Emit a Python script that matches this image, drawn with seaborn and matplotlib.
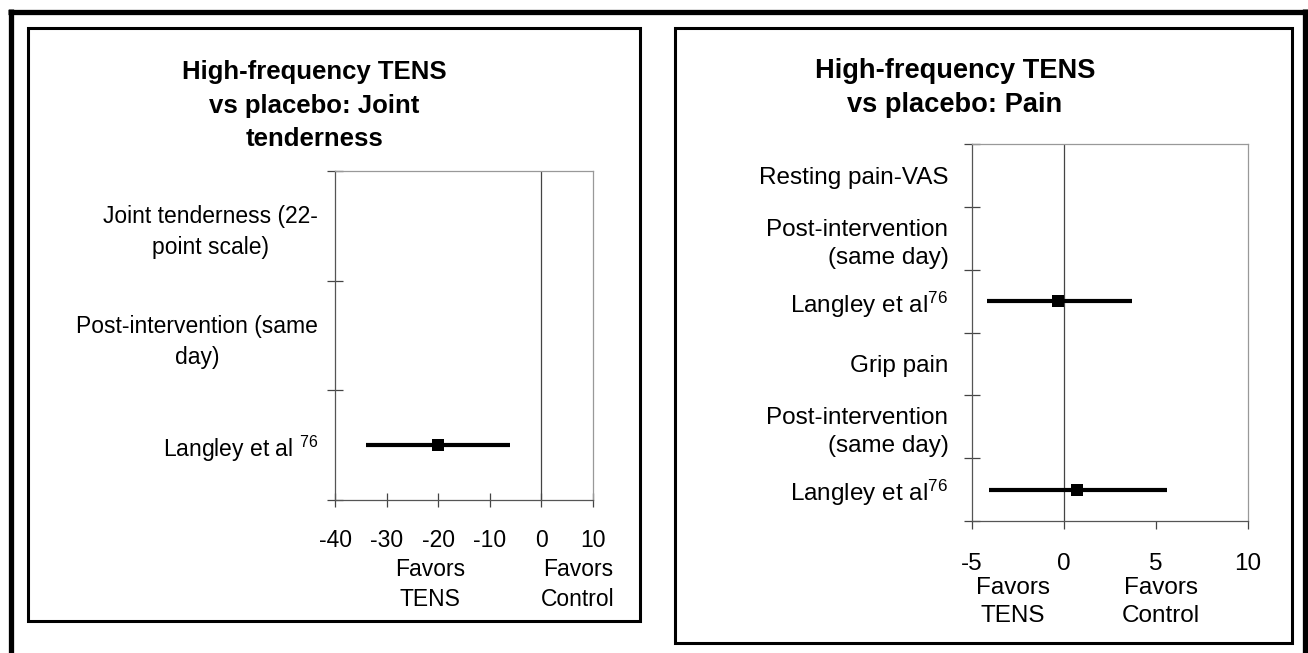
import numpy as np
import pandas as pd
import matplotlib
matplotlib.use("Agg")
import matplotlib.pyplot as plt
from matplotlib.patches import Rectangle
from matplotlib.lines import Line2D
import seaborn as sns

# ---------------- data ----------------
left_title = "High-frequency TENS\nvs placebo: Joint\ntenderness"
left_labels = ["Joint tenderness (22-\npoint scale)",
               "Post-intervention (same\nday)",
               "Langley et al $^{\\mathregular{76}}$"]
left_est = [np.nan, np.nan, -20.0]
left_lo = [np.nan, np.nan, -34.0]
left_hi = [np.nan, np.nan, -6.0]
left_xticks = [-40, -30, -20, -10, 0, 10]

right_title = "High-frequency TENS\nvs placebo: Pain"
right_labels = ["Resting pain-VAS",
                "Post-intervention\n(same day)",
                "Langley et al$^{\\mathregular{76}}$",
                "Grip pain",
                "Post-intervention\n(same day)",
                "Langley et al$^{\\mathregular{76}}$"]
right_est = [np.nan, np.nan, -0.3, np.nan, np.nan, 0.7]
right_lo = [np.nan, np.nan, -4.2, np.nan, np.nan, -4.1]
right_hi = [np.nan, np.nan, 3.7, np.nan, np.nan, 5.6]
right_xticks = [-5, 0, 5, 10]

favors_left = "Favors\nTENS"
favors_right = "Favors\nControl"

# ---------------- style ----------------
sns.set_theme(style="white")
plt.rcParams["font.family"] = ["Liberation Sans", "DejaVu Sans"]
plt.rcParams["text.color"] = "black"
plt.rcParams["xtick.color"] = "black"
plt.rcParams["ytick.color"] = "black"
plt.rcParams["mathtext.fontset"] = "custom"
plt.rcParams["mathtext.rm"] = "Liberation Sans"
plt.rcParams["mathtext.it"] = "Liberation Sans:italic"
plt.rcParams["mathtext.bf"] = "Liberation Sans:bold"

W, H = 1308, 653
fig = plt.figure(figsize=(W / 100, H / 100), dpi=100)
fig.patch.set_facecolor("white")


def fx(px):
    return px / W


def fy(py):
    return 1 - py / H


def forest(ax, labels, est, lo, hi, xticks, fs, ma, ypad, xdir, xpad, lsp):
    n = len(labels)
    pos = np.arange(n)
    df = pd.DataFrame({"pos": pos, "est": est, "lo": lo, "hi": hi})
    ax.axvline(0, color="#444444", lw=0.9, zorder=1)
    d = df.dropna()
    ax.hlines(d["pos"], d["lo"], d["hi"], color="black", lw=3.0, zorder=3)
    sns.scatterplot(data=d, x="est", y="pos", marker="s", s=70, color="black",
                    edgecolor="black", linewidth=0, ax=ax, zorder=4, legend=False)
    ax.set_ylim(n - 0.5, -0.5)
    ax.set_xlim(xticks[0], xticks[-1])
    ax.set_xticks(xticks)
    ax.set_xticklabels([str(t) for t in xticks], fontsize=fs, color="black")
    ax.set_yticks(pos)
    ax.set_yticklabels(labels, fontsize=fs, ma=ma, linespacing=lsp, color="black")
    ax.set_yticks(np.arange(n + 1) - 0.5, minor=True)
    ax.tick_params(axis="y", which="major", length=0, pad=ypad)
    ax.tick_params(axis="y", which="minor", length=11, width=0.9,
                   direction="inout", color="#444444", left=True)
    ax.tick_params(axis="x", which="major", length=10 if xdir == "inout" else 6,
                   width=0.9, direction=xdir, color="#444444", pad=xpad,
                   bottom=True)
    ax.set_xlabel("")
    ax.set_ylabel("")
    ax.set_facecolor("white")
    for side in ["left", "bottom"]:
        ax.spines[side].set_color("#555555")
        ax.spines[side].set_linewidth(0.9)
    for side in ["top", "right"]:
        ax.spines[side].set_color("#999999")
        ax.spines[side].set_linewidth(0.9)
    ax.grid(False)


# ---------------- left panel ----------------
axL = fig.add_axes([fx(335), fy(500), fx(593) - fx(335), fy(171) - fy(500)])
forest(axL, left_labels, left_est, left_lo, left_hi, left_xticks,
       16.5, "center", 12, "inout", 16, 1.42)

# ---------------- right panel ----------------
axR = fig.add_axes([fx(972), fy(521), fx(1248) - fx(972), fy(144) - fy(521)])
forest(axR, right_labels, right_est, right_lo, right_hi, right_xticks,
       17.5, "right", 17, "out", 17, 1.35)

# titles
fig.text(fx(314), fy(106), left_title, ha="center", va="center",
         ma="center", fontsize=18.5, fontweight="bold", linespacing=1.5)
fig.text(fx(955), fy(88), right_title, ha="center", va="center",
         ma="center", fontsize=19.6, fontweight="bold", linespacing=1.4)

# favors labels
fig.text(fx(430), fy(584.5), favors_left, ha="center", va="center", ma="center",
         fontsize=16.5, linespacing=1.35)
fig.text(fx(578), fy(584.5), favors_right, ha="center", va="center", ma="center",
         fontsize=16.5, linespacing=1.35)
fig.text(fx(1013), fy(602), favors_left, ha="center", va="center", ma="center",
         fontsize=17.5, linespacing=1.35)
fig.text(fx(1161), fy(602), favors_right, ha="center", va="center", ma="center",
         fontsize=17.5, linespacing=1.35)

# panel frames
fig.patches.append(Rectangle((fx(28), fy(620.5)), fx(640) - fx(28), fy(28) - fy(620.5),
                             transform=fig.transFigure, fill=False,
                             edgecolor="black", lw=2.2, zorder=0))
fig.patches.append(Rectangle((fx(675.5), fy(642.5)), fx(1291.5) - fx(675.5),
                             fy(27.5) - fy(642.5), transform=fig.transFigure,
                             fill=False, edgecolor="black", lw=2.2, zorder=0))

# outer border (top, left, right)
for xs, ys in [([8, 1307.5], [11.5, 11.5]),
               ([10.5, 10.5], [9, 660]),
               ([1305, 1305], [9, 660])]:
    fig.lines.append(Line2D([fx(x) for x in xs], [fy(y) for y in ys],
                            transform=fig.transFigure, color="black", lw=3.8,
                            solid_capstyle="butt"))

fig.savefig("out.png", dpi=100, facecolor="white")
